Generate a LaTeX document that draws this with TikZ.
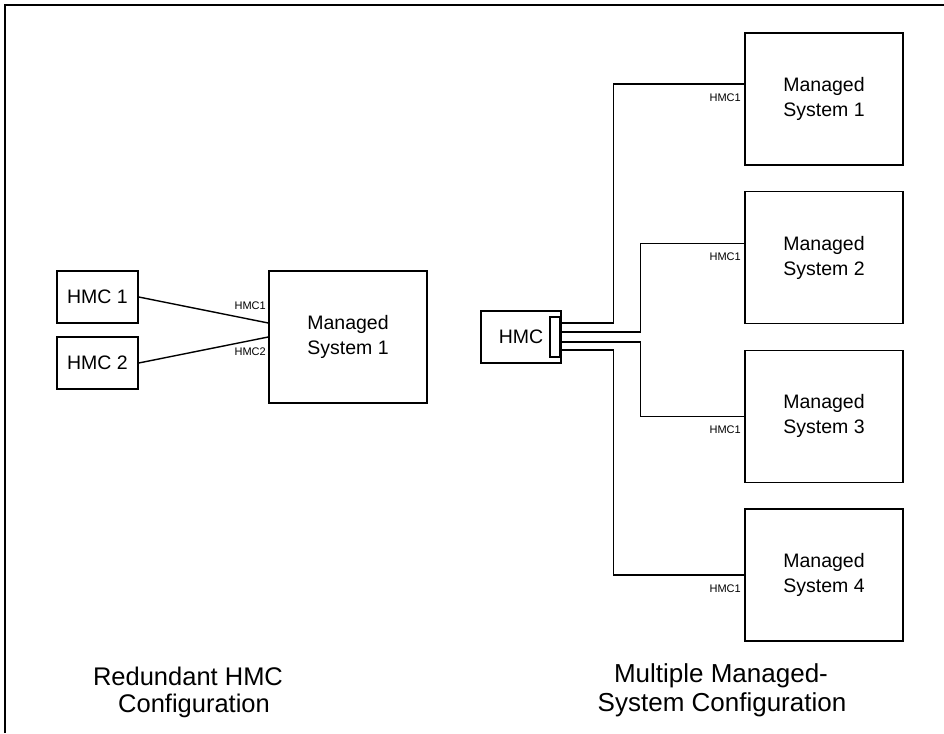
\documentclass[tikz,border=0pt]{standalone}
\usepackage{fontspec}
\setmainfont{Liberation Sans}
\usetikzlibrary{calc}
\begin{document}
\begin{tikzpicture}[x=1pt,y=-1pt,
  hmcbox/.style={draw, line width=1.5pt, inner sep=0pt, minimum width=81pt, minimum height=52pt, font=\fontsize{19.5}{25}\selectfont},
  msbox/.style={draw, line width=1.5pt, inner sep=0pt, minimum width=158pt, minimum height=132pt, align=center, font=\fontsize{19.5}{25}\selectfont},
  portbox/.style={draw, fill=white, line width=1.5pt, inner sep=0pt, minimum width=10pt, minimum height=40pt},
  wire/.style={line width=1.4pt},
  lbl/.style={font=\fontsize{11}{13}\selectfont, inner sep=0pt, anchor=east},
  captext/.style={font=\fontsize{26}{30}\selectfont, inner sep=0pt, anchor=base}
]
\useasboundingbox (0,0) rectangle (944,733);
\draw[line width=1.2pt] (5,733) -- (5,5) -- (944,5);

% Redundant HMC configuration
\node[hmcbox] (h1) at (97.5,297) {HMC 1};
\node[hmcbox] (h2) at (97.5,363) {HMC 2};
\node[msbox] (ma) at (348,337) {Managed\\System 1};
\draw[wire] (h1.east) -- ($(ma.west)+(0,-14)$);
\draw[wire] (h2.east) -- (ma.west);
\node[lbl] (la1) at (266,306) {HMC1};
\node[lbl] (la2) at (266,352) {HMC2};

% Multiple managed-system configuration
\node[hmcbox, minimum width=80pt] (hm) at (521,337) {HMC};
\node[msbox] (m1) at (824,99) {Managed\\System 1};
\node[msbox] (m2) at (824,257.7) {Managed\\System 2};
\node[msbox] (m3) at (824,416.4) {Managed\\System 3};
\node[msbox] (m4) at (824,575.1) {Managed\\System 4};
\node[portbox] (pt) at (555,337) {};
\coordinate (p1) at ($(pt.east)+(0,-14)$);
\coordinate (p2) at ($(pt.east)+(0,-5)$);
\coordinate (p3) at ($(pt.east)+(0,5)$);
\coordinate (p4) at ($(pt.east)+(0,13)$);
\draw[wire] (p1) -- ++(53,0) |- ($(m1.west)+(0,-15)$);
\draw[wire] (p2) -- ++(80,0) |- ($(m2.west)+(0,-14.5)$);
\draw[wire] (p3) -- ++(80,0) |- (m3.west);
\draw[wire] (p4) -- ++(53,0) |- (m4.west);
\node[lbl] (l1) at (741,98) {HMC1};
\node[lbl] (l2) at (741,257) {HMC1};
\node[lbl] (l3) at (741,430) {HMC1};
\node[lbl] (l4) at (741,589) {HMC1};

% captions
\node[captext, font=\fontsize{25.5}{30}\selectfont] (c1a) at (188,685) {Redundant HMC};
\node[captext, font=\fontsize{25.5}{30}\selectfont] (c1b) at (194,712) {Configuration};
\node[captext] (c2a) at (721,682) {Multiple Managed-};
\node[captext] (c2b) at (722,711) {System Configuration};
\end{tikzpicture}
\end{document}
